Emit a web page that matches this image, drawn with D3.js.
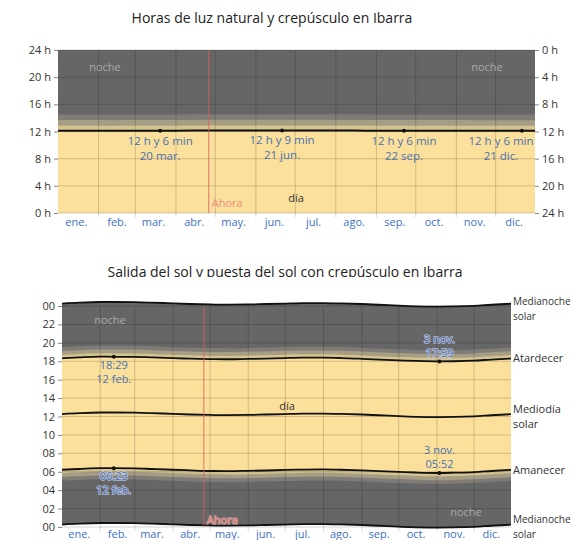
<!DOCTYPE html>
<html>
<head>
<meta charset="utf-8">
<script src="https://cdn.jsdelivr.net/npm/d3@7"></script>
<style>
  body { margin: 0; background: #fff; font-family: "Open Sans", "Noto Sans", sans-serif; }
</style>
</head>
<body>
<div id="chart"></div>
<script>
// datos (Ibarra)
const fechas = ["01-01","01-15","02-01","02-12","03-01","03-15","04-01","04-15","05-01","05-15","06-01","06-15",
                "07-01","07-15","08-01","08-15","09-01","09-15","10-01","10-15","11-03","11-15","12-01","12-15","12-31"];
const amanecer = ["06:13","06:18","06:23","06:23","06:22","06:18","06:13","06:09","06:05","06:04","06:06","06:08",
                  "06:12","06:14","06:15","06:13","06:09","06:04","05:59","05:55","05:52","05:54","05:58","06:05","06:12"];
const atardecer = ["18:19","18:25","18:30","18:29","18:29","18:25","18:20","18:17","18:14","18:13","18:15","18:17",
                   "18:21","18:23","18:23","18:21","18:16","18:11","18:06","18:02","17:59","18:00","18:04","18:11","18:18"];
const mediodia = ["12:16","12:22","12:26","12:26","12:25","12:22","12:17","12:13","12:10","12:09","12:10","12:13",
                  "12:16","12:19","12:19","12:17","12:13","12:08","12:02","11:58","11:56","11:57","12:01","12:08","12:15"];
const medianoche = ["00:16","00:22","00:26","00:26","00:25","00:22","00:17","00:13","00:10","00:09","00:10","00:13",
                    "00:16","00:19","00:19","00:17","00:13","00:08","00:02","23:58","23:56","23:57","00:01","00:08","00:15"];
const crepusculo = [22, 47, 72]; // min: civil, nautico, astronomico

const hitosFecha = ["03-20", "06-21", "09-22", "12-21"];
const hitosMin = [726, 729, 726, 726];
const hitosTexto = ["12 h y 6 min", "12 h y 9 min", "12 h y 6 min", "12 h y 6 min"];
const hitosDia = ["20 mar.", "21 jun.", "22 sep.", "21 dic."];

const meses = ["ene.","feb.","mar.","abr.","may.","jun.","jul.","ago.","sep.","oct.","nov.","dic."];
const ahora = "04-26";

const parseFecha = s => new Date(2023, +s.slice(0, 2) - 1, +s.slice(3, 5));
const horas = s => +s.slice(0, 2) + +s.slice(3, 5) / 60;

let data = fechas.map((f, i) => {
    let mn = horas(medianoche[i]);
    if (mn > 12) mn -= 24;
    return {
        fecha: parseFecha(f),
        salida: horas(amanecer[i]),
        puesta: horas(atardecer[i]),
        mediodia: horas(mediodia[i]),
        medianoche: mn
    };
});
data.forEach(d => d.luz = d.puesta - d.salida);

const colDia = "#fbe09b", colNoche = "#666666";
const colCrep = ["#d6c48f", "#a69d85", "#7f7c78"];
const gridCol = "rgba(0,0,0,0.17)";
const azul = "#3d6fc4", azulTxt = "#4a70ae";

let W = 573, H = 540;
let svg = d3.select("#chart").append("svg").attr("width", W).attr("height", H);

let x0 = new Date(2023, 0, 1), x1 = new Date(2023, 11, 31);
let curve = d3.curveMonotoneX;

// ---------------- grafico 1 ----------------
let m1 = { left: 58, top: 50, width: 477, height: 163 };
let xa = d3.scaleTime().domain([x0, x1]).range([m1.left, m1.left + m1.width]);
let ya = d3.scaleLinear().domain([0, 24]).range([m1.top + m1.height, m1.top]);
let yaR = d3.scaleLinear().domain([0, 24]).range([m1.top, m1.top + m1.height]);

svg.append("text")
    .attr("x", 272).attr("y", 23)
    .attr("text-anchor", "middle")
    .style("font-size", "14px").style("fill", "#222")
    .text("Horas de luz natural y crepúsculo en Ibarra");

let g1 = svg.append("g");
g1.append("rect").attr("x", m1.left).attr("y", m1.top).attr("width", m1.width).attr("height", m1.height)
    .attr("fill", colNoche);

let bandas1 = [0].concat(crepusculo);
for (let k = bandas1.length - 1; k >= 0; k--) {
    let extra = bandas1[k] * 2 / 60;
    g1.append("path").datum(data)
        .attr("fill", k === 0 ? colDia : colCrep[k - 1])
        .attr("d", d3.area().curve(curve)
            .x(d => xa(d.fecha)).y0(ya(0)).y1(d => ya(d.luz + extra)));
}

// rejilla
g1.append("g").selectAll("line").data(d3.range(0, 25, 4)).join("line")
    .attr("x1", m1.left).attr("x2", m1.left + m1.width)
    .attr("y1", d => ya(d)).attr("y2", d => ya(d))
    .attr("stroke", gridCol);
g1.append("g").selectAll("line").data(d3.range(1, 12)).join("line")
    .attr("x1", d => xa(new Date(2023, d, 1))).attr("x2", d => xa(new Date(2023, d, 1)))
    .attr("y1", m1.top).attr("y2", m1.top + m1.height + 4)
    .attr("stroke", gridCol);

g1.append("path").datum(data)
    .attr("fill", "none").attr("stroke", "#111").attr("stroke-width", 2)
    .attr("d", d3.line().curve(curve).x(d => xa(d.fecha)).y(d => ya(d.luz)));

let axL = g1.append("g").attr("transform", `translate(${m1.left},0)`)
    .call(d3.axisLeft(ya).tickValues(d3.range(0, 25, 4)).tickSize(4).tickFormat(d => d + " h"));
let axR = g1.append("g").attr("transform", `translate(${m1.left + m1.width},0)`)
    .call(d3.axisRight(yaR).tickValues(d3.range(0, 25, 4)).tickSize(4).tickFormat(d => d + " h"));
[axL, axR].forEach(a => {
    a.select(".domain").remove();
    a.selectAll("line").attr("stroke", "#888");
    a.selectAll("text").style("font-size", "11px").style("fill", "#333")
        .style("font-family", "'Open Sans', sans-serif");
});

g1.selectAll(".mes").data(meses).join("text")
    .attr("x", (d, i) => xa(new Date(2023, i, 15)))
    .attr("y", 226)
    .attr("text-anchor", "middle")
    .style("font-size", "11px").style("fill", azul)
    .text(d => d);

// ahora
let xAhora = xa(parseFecha(ahora));
g1.append("line").attr("x1", xAhora).attr("x2", xAhora).attr("y1", m1.top).attr("y2", m1.top + m1.height)
    .attr("stroke", "#e05a5a").attr("stroke-opacity", 0.8);
g1.append("text").attr("x", xAhora + 3).attr("y", 207)
    .style("font-size", "11px").style("fill", "#f08a80").text("Ahora");

g1.append("text").attr("x", 105).attr("y", 71).attr("text-anchor", "middle")
    .style("font-size", "11px").style("fill", "#a8a8a8").text("noche");
g1.append("text").attr("x", 487).attr("y", 71).attr("text-anchor", "middle")
    .style("font-size", "11px").style("fill", "#a8a8a8").text("noche");
g1.append("text").attr("x", 296).attr("y", 202).attr("text-anchor", "middle")
    .style("font-size", "11px").style("fill", "#333").text("día");

hitosFecha.forEach((f, i) => {
    let cx = xa(parseFecha(f)), cy = ya(hitosMin[i] / 60);
    let tx = Math.min(cx, m1.left + m1.width - 34);
    g1.append("circle").attr("cx", cx).attr("cy", cy).attr("r", 2).attr("fill", "#111");
    g1.append("text").attr("x", tx).attr("y", cy + 14).attr("text-anchor", "middle")
        .style("font-size", "11.5px").style("fill", azulTxt).text(hitosTexto[i]);
    g1.append("text").attr("x", tx).attr("y", cy + 29).attr("text-anchor", "middle")
        .style("font-size", "11.5px").style("fill", azulTxt).text(hitosDia[i]);
});

// ---------------- grafico 2 ----------------
let m2 = { left: 62, top: 306, width: 449, height: 221 };
let xb = d3.scaleTime().domain([x0, x1]).range([m2.left, m2.left + m2.width]);
let yb = d3.scaleLinear().domain([0, 24]).range([m2.top + m2.height, m2.top]);

svg.append("clipPath").attr("id", "corte")
    .append("rect").attr("x", 0).attr("y", 250).attr("width", W).attr("height", 27);
svg.append("text")
    .attr("x", 285).attr("y", 277)
    .attr("text-anchor", "middle")
    .attr("clip-path", "url(#corte)")
    .style("font-size", "14px").style("fill", "#222")
    .text("Salida del sol y puesta del sol con crepúsculo en Ibarra");

let g2 = svg.append("g");
// noche arriba y abajo
g2.append("path").datum(data).attr("fill", colNoche)
    .attr("d", d3.area().curve(curve).x(d => xb(d.fecha))
        .y0(d => yb(d.puesta)).y1(d => yb(d.medianoche + 24)));
g2.append("path").datum(data).attr("fill", colNoche)
    .attr("d", d3.area().curve(curve).x(d => xb(d.fecha))
        .y0(d => yb(d.medianoche)).y1(d => yb(d.salida)));
for (let k = crepusculo.length - 1; k >= 0; k--) {
    let off = crepusculo[k] / 60;
    g2.append("path").datum(data).attr("fill", colCrep[k])
        .attr("d", d3.area().curve(curve).x(d => xb(d.fecha))
            .y0(d => yb(d.puesta)).y1(d => yb(d.puesta + off)));
    g2.append("path").datum(data).attr("fill", colCrep[k])
        .attr("d", d3.area().curve(curve).x(d => xb(d.fecha))
            .y0(d => yb(d.salida - off)).y1(d => yb(d.salida)));
}
g2.append("path").datum(data).attr("fill", colDia)
    .attr("d", d3.area().curve(curve).x(d => xb(d.fecha))
        .y0(d => yb(d.salida)).y1(d => yb(d.puesta)));

g2.append("g").selectAll("line").data(d3.range(0, 25, 2)).join("line")
    .attr("x1", m2.left).attr("x2", m2.left + m2.width)
    .attr("y1", d => yb(d)).attr("y2", d => yb(d))
    .attr("stroke", gridCol);
g2.append("g").selectAll("line").data(d3.range(1, 12)).join("line")
    .attr("x1", d => xb(new Date(2023, d, 1))).attr("x2", d => xb(new Date(2023, d, 1)))
    .attr("y1", m2.top).attr("y2", m2.top + m2.height + 4)
    .attr("stroke", gridCol);

let curvas = [
    d => d.medianoche + 24, d => d.puesta, d => d.mediodia, d => d.salida, d => d.medianoche
];
curvas.forEach(fn => {
    g2.append("path").datum(data)
        .attr("fill", "none").attr("stroke", "#111").attr("stroke-width", 1.8)
        .attr("d", d3.line().curve(curve).x(d => xb(d.fecha)).y(d => yb(fn(d))));
});

let axB = g2.append("g").attr("transform", `translate(${m2.left},0)`)
    .call(d3.axisLeft(yb).tickValues(d3.range(0, 25, 2)).tickSize(4)
        .tickFormat(d => d3.format("02")(d % 24)));
axB.select(".domain").remove();
axB.selectAll("line").attr("stroke", "#888");
axB.selectAll("text").style("font-size", "11px").style("fill", "#333")
    .style("font-family", "'Open Sans', sans-serif");

g2.selectAll(".mes").data(meses).join("text")
    .attr("x", (d, i) => xb(new Date(2023, i, 15)))
    .attr("y", 538)
    .attr("text-anchor", "middle")
    .style("font-size", "11px").style("fill", azul)
    .text(d => d);

// etiquetas derecha
let ult = data[data.length - 1];
let etiquetas = [
    { v: ult.medianoche + 24, l: ["Medianoche", "solar"], dy: 1 },
    { v: ult.puesta, l: ["Atardecer"], dy: 4 },
    { v: ult.mediodia, l: ["Mediodía", "solar"], dy: -1 },
    { v: ult.salida, l: ["Amanecer"], dy: 4 },
    { v: ult.medianoche, l: ["Medianoche", "solar"], dy: -2 }
];
etiquetas.forEach(e => {
    e.l.forEach((t, j) => {
        g2.append("text").attr("x", m2.left + m2.width + 2)
            .attr("y", yb(e.v) + e.dy + j * 15)
            .style("font-size", e.l[0] === "Medianoche" ? "10px" : "11px")
            .style("fill", "#333").text(t);
    });
});

let xAhora2 = xb(parseFecha(ahora));
g2.append("line").attr("x1", xAhora2).attr("x2", xAhora2).attr("y1", m2.top).attr("y2", m2.top + m2.height)
    .attr("stroke", "#e05a5a").attr("stroke-opacity", 0.8);
g2.append("text").attr("x", xAhora2 + 3).attr("y", 524)
    .style("font-size", "11px").style("fill", "#f08a80")
    .style("stroke", "rgba(255,200,200,0.5)").style("stroke-width", 1.5).style("paint-order", "stroke")
    .text("Ahora");

g2.append("text").attr("x", 110).attr("y", 324).attr("text-anchor", "middle")
    .style("font-size", "11px").style("fill", "#a8a8a8").text("noche");
g2.append("text").attr("x", 466).attr("y", 516).attr("text-anchor", "middle")
    .style("font-size", "11px").style("fill", "#a8a8a8").text("noche");
g2.append("text").attr("x", 287).attr("y", 410).attr("text-anchor", "middle")
    .style("font-size", "11px").style("fill", "#333").text("día");

// anotaciones: fecha, campo, desplazamientos, halo
let anot = [
    { f: "02-12", campo: "puesta", txt: ["18:29", "12 feb."], dy: [12, 26], halo: false },
    { f: "11-03", campo: "puesta", txt: ["3 nov.", "17:59"], dy: [-18, -4], halo: true },
    { f: "02-12", campo: "salida", txt: ["06:23", "12 feb."], dy: [12, 26], halo: true },
    { f: "11-03", campo: "salida", txt: ["3 nov.", "05:52"], dy: [-19, -5], halo: false }
];
anot.forEach(a => {
    let d = data[fechas.indexOf(a.f)];
    let cx = xb(d.fecha), cy = yb(d[a.campo]);
    g2.append("circle").attr("cx", cx).attr("cy", cy).attr("r", 2).attr("fill", "#111");
    a.txt.forEach((t, j) => {
        let tx = g2.append("text").attr("x", cx).attr("y", cy + a.dy[j]).attr("text-anchor", "middle")
            .style("font-size", "11px").style("fill", azulTxt).text(t);
        if (a.halo) {
            tx.style("stroke", "rgba(210,220,250,0.75)").style("stroke-width", 1.6)
                .style("paint-order", "stroke");
        }
    });
});
</script>
</body>
</html>
